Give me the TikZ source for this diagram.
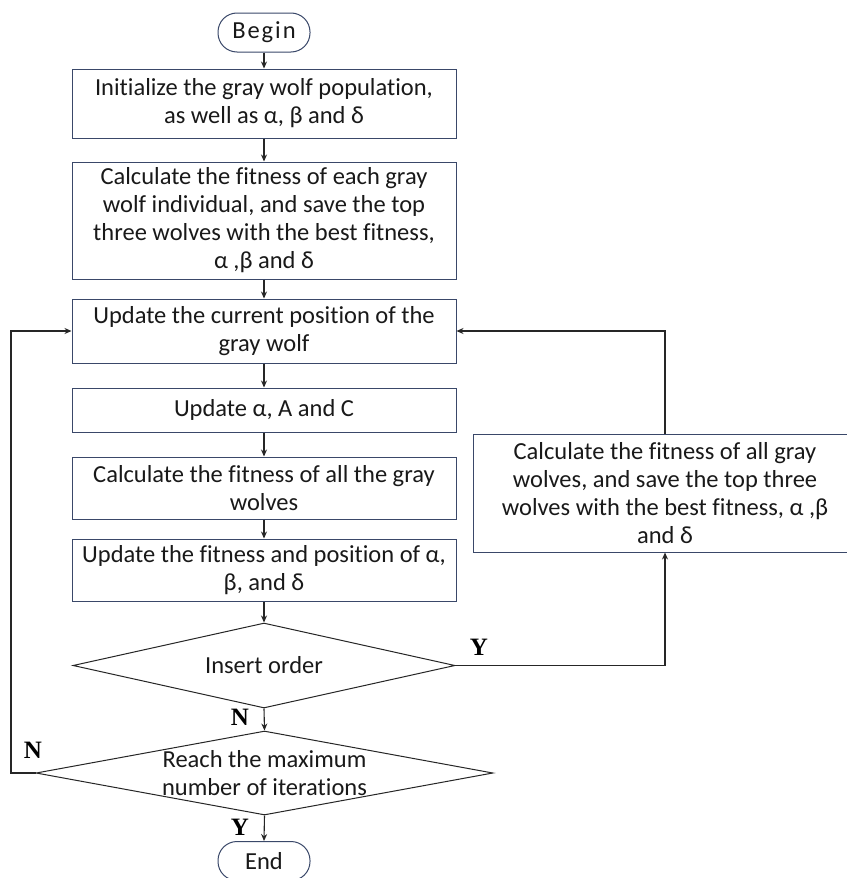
\documentclass[tikz,border=0pt]{standalone}
\usepackage{fontspec}
\setmainfont{Carlito}[Ligatures=NoCommon]
\newfontfamily\lblfont{Liberation Serif}
\usetikzlibrary{shapes.geometric,arrows.meta}
\definecolor{boxline}{RGB}{58,72,105}
\definecolor{txt}{RGB}{25,25,25}
\tikzset{
  every node/.style={text=txt},
  procbox/.style={draw=boxline, line width=1pt, rectangle, minimum width=384pt, inner sep=0pt, align=center, font=\fontsize{24.5}{28}\selectfont},
  termbox/.style={draw=boxline, line width=1pt, rectangle, rounded corners=19pt, minimum width=92pt, minimum height=39pt, inner sep=0pt, font=\fontsize{24.5}{28}\selectfont},
  decbox/.style={draw=black!85, line width=1pt, diamond, inner sep=0pt},
  dectext/.style={align=center, font=\fontsize{24.5}{28.5}\selectfont},
  yn/.style={font=\lblfont\bfseries\fontsize{25}{28}\selectfont, text=black},
  conn/.style={draw=black!85, line width=1.1pt},
  arr/.style={conn, -{Stealth[length=7pt,width=6pt]}},
}
\begin{document}
\begin{tikzpicture}[x=1pt,y=-1pt]
\useasboundingbox[fill=white] (0,0) rectangle (846,878);
\node[termbox] (begin) at (264,32.5) {\addfontfeature{LetterSpace=8}Begin};
\node[procbox, minimum height=69pt] (b1) at (264,103.5) {Initialize the gray wolf population,\\as well as α, β and δ};
\node[procbox, minimum height=117pt] (b2) at (264,220.5) {Calculate the fitness of each gray\\wolf individual, and save the top\\three wolves with the best fitness,\\α ,β and δ};
\node[procbox, minimum height=64pt] (b3) at (264,331) {Update the current position of the\\gray wolf};
\node[procbox, minimum height=44pt] (b4) at (264,410) {Update α, A and C};
\node[procbox, minimum height=62pt] (b5) at (264,488) {Calculate the fitness of all the gray\\wolves};
\node[procbox, minimum height=62pt] (b6) at (264,570) {Update the fitness and position of α,\\β, and δ};
\node[decbox, minimum width=382pt, minimum height=85pt] (d1) at (264,665.5) {};
\node[dectext] (d1t) at (d1.center) {Insert order};
\node[decbox, minimum width=457pt, minimum height=84pt] (d2) at (264.5,773) {};
\node[dectext] (d2t) at (d2.center) {Reach the maximum\\number of iterations};
\node[termbox] (end) at (264,861) {End};
\node[procbox, minimum height=118pt] (rb) at (665,493) {Calculate the fitness of all gray\\wolves, and save the top three\\wolves with the best fitness, α ,β\\and δ};
\coordinate (lx) at (11,773);
% connectors
\draw[arr] (begin) -- (b1);
\draw[arr] (b1) -- (b2);
\draw[arr] (b2) -- (b3);
\draw[arr] (b3) -- (b4);
\draw[arr] (b4) -- (b5);
\draw[arr] (b5) -- (b6);
\draw[arr] (b6) -- (d1);
\draw[arr] (d1.south) -- (d2.north);
\draw[arr] (d2.south) -- (end.north);
\draw[arr] (d1.east) -| (rb.south);
\draw[arr] (rb.north) |- (b3.east);
\draw[arr] (d2.west) -- (lx) |- (b3.west);
% labels
\node[yn] (ly1) at (479,647) {Y};
\node[yn] (ln1) at (240,717) {N};
\node[yn] (ln2) at (33,750) {N};
\node[yn] (ly2) at (240,827) {Y};
\end{tikzpicture}
\end{document}
